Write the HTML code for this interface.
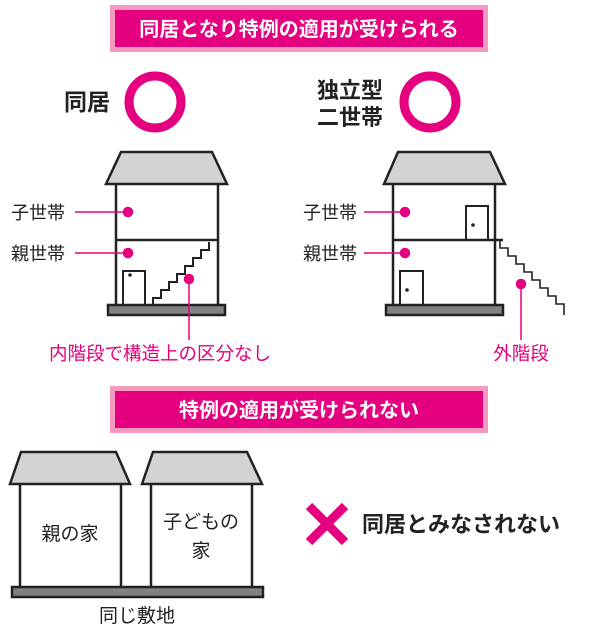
<!DOCTYPE html>
<html><head><meta charset="utf-8"><style>
html,body{margin:0;padding:0;background:#fff}
svg{display:block}
text{font-family:"Liberation Sans","Noto Sans CJK JP",sans-serif}
</style></head><body>
<svg width="600" height="627" viewBox="0 0 600 627" xmlns="http://www.w3.org/2000/svg">
<rect x="110" y="5" width="378" height="47" fill="#f49ac1"/>
<rect x="115" y="10" width="368" height="37" fill="#e4007f"/>
<text x="299" y="36" font-size="20" font-weight="bold" fill="#fff" text-anchor="middle">同居となり特例の適用が受けられる</text>

<text x="64" y="110" font-size="23" font-weight="bold" fill="#222">同居</text>
<circle cx="155" cy="102" r="26" fill="none" stroke="#e4007f" stroke-width="9"/>
<text x="317" y="98" font-size="22" font-weight="bold" fill="#222">独立型</text>
<text x="317" y="125" font-size="22" font-weight="bold" fill="#222">二世帯</text>
<circle cx="430" cy="102" r="26" fill="none" stroke="#e4007f" stroke-width="9"/>

<g stroke="#222" stroke-width="2.5" fill="none">
<polygon points="121,152 212,152 227,184 106,184" fill="#d1d3d4"/>
<line x1="116" y1="184" x2="116" y2="305"/>
<line x1="218" y1="184" x2="218" y2="305"/>
<line x1="116" y1="240" x2="218" y2="240"/>
<rect x="123" y="271" width="22" height="34" stroke-width="2"/>
<polyline stroke-width="2" points="153,305 153,298 161,298 161,290 169,290 169,282 177,282 177,274 185,274 185,266 193,266 193,258 201,258 201,250 209,250 209,242"/>
<rect x="108" y="305" width="117" height="10" fill="#808285"/>
</g>
<circle cx="130" cy="275" r="1.8" fill="#222"/>
<g stroke="#222" stroke-width="2.5" fill="none">
<polygon points="398,152 490,152 505,184 384,184" fill="#d1d3d4"/>
<line x1="393" y1="184" x2="393" y2="305"/>
<line x1="495" y1="184" x2="495" y2="305"/>
<line x1="393" y1="240" x2="503" y2="240"/>
<rect x="466" y="206" width="22" height="34" stroke-width="2"/>
<rect x="400" y="271" width="23" height="34" stroke-width="2"/>
<polyline stroke-width="1.6" points="500,241 500,248 508,248 508,256 516,256 516,264 524,264 524,272 532,272 532,280 540,280 540,288 548,288 548,296 556,296 556,304 564,304 564,315"/>
<rect x="386" y="305" width="117" height="10" fill="#808285"/>
</g>
<circle cx="473" cy="225" r="1.8" fill="#222"/>
<circle cx="407" cy="290" r="1.8" fill="#222"/>

<g fill="#e4007f" stroke="#e4007f" stroke-width="1.5">
<line x1="75" y1="212" x2="127" y2="212"/><circle cx="128" cy="212" r="4.5"/>
<line x1="75" y1="253" x2="127" y2="253"/><circle cx="128" cy="253" r="4.5"/>
<line x1="189" y1="279" x2="189" y2="340"/><circle cx="189" cy="279" r="4.5"/>
<line x1="364" y1="212" x2="405" y2="212"/><circle cx="405" cy="212" r="4.5"/>
<line x1="364" y1="253" x2="405" y2="253"/><circle cx="405" cy="253" r="4.5"/>
<line x1="521" y1="284" x2="521" y2="340"/><circle cx="521" cy="284" r="4.5"/>
</g>
<text x="11" y="219" font-size="18" fill="#222">子世帯</text>
<text x="11" y="260" font-size="18" fill="#222">親世帯</text>
<text x="303" y="219" font-size="18" fill="#222">子世帯</text>
<text x="303" y="260" font-size="18" fill="#222">親世帯</text>
<text x="160" y="360" font-size="18.5" fill="#e4007f" text-anchor="middle">内階段で構造上の区分なし</text>
<text x="521" y="360" font-size="18.5" fill="#e4007f" text-anchor="middle">外階段</text>

<rect x="110" y="386" width="378" height="47" fill="#f49ac1"/>
<rect x="115" y="391" width="368" height="37" fill="#e4007f"/>
<text x="299" y="417" font-size="20" font-weight="bold" fill="#fff" text-anchor="middle">特例の適用が受けられない</text>

<g stroke="#222" stroke-width="2.5" fill="none">
<polygon points="21,452 116,452 130,484 10,484" fill="#d1d3d4"/>
<line x1="20" y1="484" x2="20" y2="587"/><line x1="121" y1="484" x2="121" y2="587"/>
<polygon points="153,452 247,452 262,484 142,484" fill="#d1d3d4"/>
<line x1="151" y1="484" x2="151" y2="587"/><line x1="252" y1="484" x2="252" y2="587"/>
<rect x="12" y="587" width="251" height="10" fill="#808285"/>
</g>
<text x="70" y="540" font-size="19" fill="#222" text-anchor="middle">親の家</text>
<text x="201" y="528" font-size="19" fill="#222" text-anchor="middle">子どもの</text>
<text x="201" y="557" font-size="19" fill="#222" text-anchor="middle">家</text>
<text x="137" y="622" font-size="19" fill="#222" text-anchor="middle">同じ敷地</text>

<g stroke="#e4007f" stroke-width="9"><line x1="309" y1="506" x2="345" y2="542"/><line x1="345" y1="506" x2="309" y2="542"/></g>
<text x="362" y="532" font-size="22" font-weight="bold" fill="#222">同居とみなされない</text>
</svg>
</body></html>
